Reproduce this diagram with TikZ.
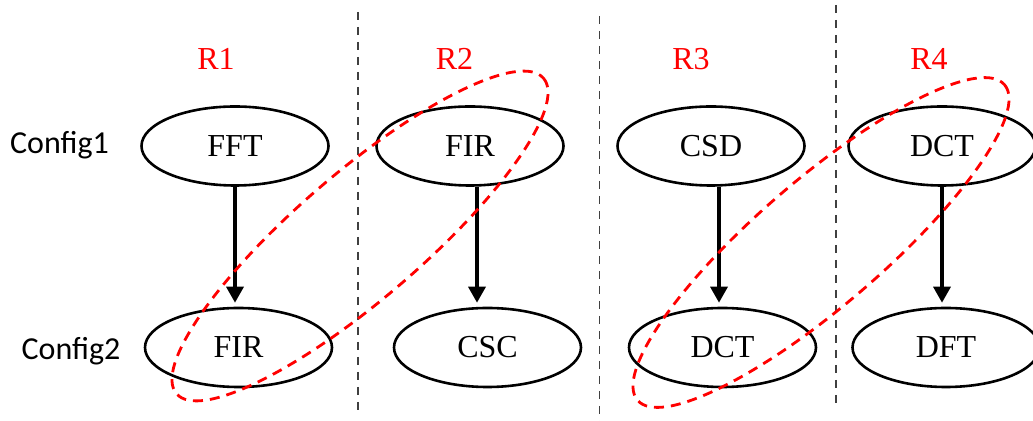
\documentclass[tikz,border=0pt]{standalone}
\usepackage{fontspec}
\setmainfont{Liberation Serif}
\newfontfamily\cfgfont{Carlito}
\usepackage{tikz}
\usetikzlibrary{arrows.meta,calc,positioning,shapes.geometric}
\definecolor{MarkRed}{RGB}{255,0,0}
\definecolor{SepGray}{RGB}{64,64,64}

\begin{document}
\begin{tikzpicture}[x=.5pt,y=-.5pt,font=\fontsize{16}{19}\selectfont,
  task/.style={ellipse,draw,line width=1.3pt,minimum width=93.5pt,minimum height=39.5pt,inner sep=0pt},
  flow/.style={-{Triangle[width=8.5pt,length=8pt]},line width=1.7pt,shorten >=2pt},
  sep/.style={SepGray,line width=.7pt,dash pattern=on 4pt off 3.5pt},
  group/.style={MarkRed,line width=1.4pt,dash pattern=on 5pt off 3.5pt},
  region/.style={text=MarkRed,anchor=base},
  cfg/.style={font=\cfgfont\fontsize{16}{19}\selectfont,anchor=base}]
\useasboundingbox (0,0) rectangle (1033,421);
% region separators
\draw[sep] (358,12)--(358,416);\draw[sep] (599.5,16)--(599.5,421);\draw[sep] (836,5)--(836,409);
% labels
\node[cfg] (cfg1) at (59.5,154){Config1};\node[cfg] (cfg2) at (71,359.5){Config2};
\node[region] (r1) at (216,70){R1};\node[region] (r2) at (454.5,70){R2};
\node[region] (r3) at (691,70){R3};\node[region] (r4) at (929,70){R4};
% tasks
\node[task] (fft) at (235,146){FFT};\node[task] (fira) at (238.5,347.5){FIR};
\node[task] (firb) at (470,146){FIR};\node[task] (csc) at (487.5,347.5){CSC};
\node[task] (csd) at (711,146){CSD};\node[task] (dcta) at (722.5,347.5){DCT};
\node[task] (dctb) at (942,146){DCT};\node[task] (dft) at (946,347.5){DFT};
\draw[flow] (fft.south)--(fft.south |- fira.north);
\draw[flow] ([xshift=3.5pt]firb.south)--([xshift=3.5pt]firb.south |- csc.north);
\draw[flow] ([xshift=4pt]csd.south)--([xshift=4pt]csd.south |- dcta.north);
\draw[flow] (dctb.south)--(dctb.south |- dft.north);
% reconfigured pairs
\draw[group,rotate around={40.7:(360,236)}] (360,236) ellipse [x radius=242,y radius=63];
\draw[group,rotate around={40.7:(821,242.5)}] (821,242.5) ellipse [x radius=242,y radius=63];
\end{tikzpicture}
\end{document}
